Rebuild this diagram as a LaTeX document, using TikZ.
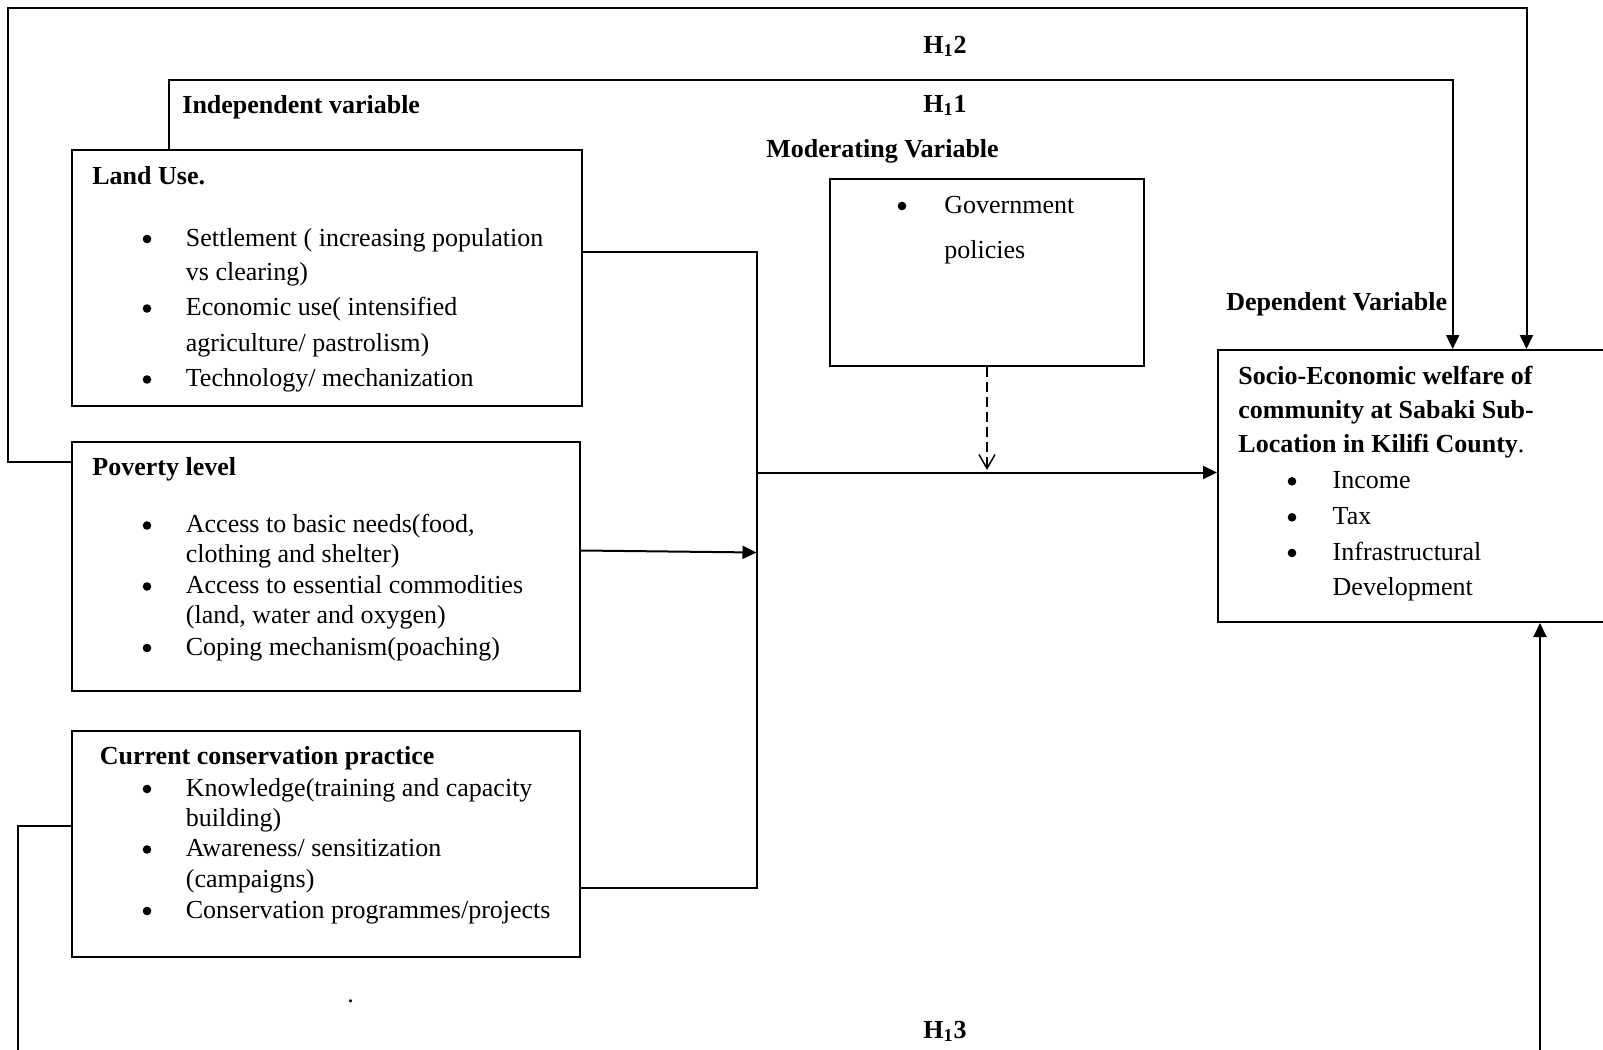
\documentclass[tikz,border=0pt]{standalone}
\usepackage{fontspec}
\setmainfont{Liberation Serif}
\usetikzlibrary{arrows.meta,fit}
\begin{document}
\begin{tikzpicture}[x=0.5pt,y=-0.5pt,
  box/.style={draw, line width=1pt, inner sep=0pt},
  ln/.style={line width=1pt},
  arr/.style={line width=1pt, -{Triangle[length=7pt,width=6.5pt]}},
  darr/.style={line width=0.75pt, dash pattern=on 5pt off 2.5pt, -{Straight Barb[length=7pt,width=8pt]}},
  tx/.style={anchor=base west, inner sep=0pt, font=\fontsize{13}{15}\selectfont},
  bx/.style={anchor=base west, inner sep=0pt, font=\fontsize{13}{15}\selectfont\bfseries},
  bul/.style={circle, fill, inner sep=0pt, minimum size=4.3pt, yshift=3.5pt}]
\useasboundingbox (0,0) rectangle (1603,1050);

% boxes
\node[box, fit={(71.6,150) (582,406)}] (land) {};
\node[box, fit={(71.6,442) (580,690.5)}] (pov) {};
\node[box, fit={(71.6,731) (580,957)}] (cons) {};
\node[box, fit={(830,179) (1144,365.5)}] (mod) {};
\node[box, fit={(1218,350) (1660,622)}] (dep) {};

% helper coordinates
\coordinate (h1a) at (169,80);
\coordinate (h1b) at (1452.7,80);
\coordinate (h2a) at (8.4,462);
\coordinate (h2b) at (1526.5,7.8);
\coordinate (h3a) at (17.5,826);
\coordinate (h3b) at (17.5,1080);
\coordinate (h3c) at (1540,1080);
\coordinate (cl) at (756.5,251.5);
\coordinate (cb) at (756.5,888);
\coordinate (cp) at (756.5,552.5);
\coordinate (cm) at (756.5,472.5);
\coordinate (dm) at (987,470);

% hypotheses connectors
\draw[arr] (land.north -| h1a) -- (h1a) -- (h1b) -- (dep.north -| h1b);
\draw[arr] (pov.west |- h2a) -- (h2a) |- (h2b) -- (dep.north -| h2b);
\draw[arr] (cons.west |- h3a) -- (h3a) -- (h3b) -- (h3c) -- (dep.south -| h3c);

% collector
\draw[ln] (land.east |- cl) -- (cl) -- (cb) -- (cons.east |- cb);
\draw[arr] (pov.east |- 0,550.5) -- (cp);
\draw[arr] (cm) -- (dep.west |- cm);
\draw[darr] (mod.south) -- (dm);

% labels
\node[bx] (lh2) at (923,53) {H\textsubscript{1}2};
\node[bx] (lh1) at (923,112) {H\textsubscript{1}1};
\node[bx] (lh3) at (923,1038) {H\textsubscript{1}3};
\node[bx] (liv) at (182,113) {Independent variable};
\node[bx] (lmv) at (766,157) {Moderating Variable};
\node[bx] (ldv) at (1226,310) {Dependent Variable};
\node[tx] (ldot) at (347,1002) {.};

% land use
\node[bx] (a0) at (92,184) {Land Use.};
\node[bul] (ab1) at (147,246) {};
\node[bul] (ab2) at (147,315.5) {};
\node[bul] (ab3) at (147,386.5) {};
\node[tx] (a1) at (185.5,246) {Settlement ( increasing population};
\node[tx] (a2) at (185.5,280.5) {vs clearing)};
\node[tx] (a3) at (185.5,315.5) {Economic use( intensified};
\node[tx] (a4) at (185.5,351) {agriculture/ pastrolism)};
\node[tx] (a5) at (185.5,386.5) {Technology/ mechanization};

% poverty
\node[bx] (p0) at (92,475) {Poverty level};
\node[bul] (pb1) at (147,532.5) {};
\node[bul] (pb2) at (147,593.5) {};
\node[bul] (pb3) at (147,655) {};
\node[tx] (p1) at (185.5,532.5) {Access to basic needs(food,};
\node[tx] (p2) at (185.5,562) {clothing and shelter)};
\node[tx] (p3) at (185.5,593.5) {Access to essential commodities};
\node[tx] (p4) at (185.5,623.5) {(land, water and oxygen)};
\node[tx] (p5) at (185.5,655) {Coping mechanism(poaching)};

% conservation
\node[bx] (c0) at (99.5,764) {Current conservation practice};
\node[bul] (cb1) at (147,796) {};
\node[bul] (cb2) at (147,856.5) {};
\node[bul] (cb3) at (147,918) {};
\node[tx] (c1) at (185.5,796) {Knowledge(training and capacity};
\node[tx] (c2) at (185.5,826) {building)};
\node[tx] (c3) at (185.5,856.5) {Awareness/ sensitization};
\node[tx] (c4) at (185.5,887) {(campaigns)};
\node[tx] (c5) at (185.5,918) {Conservation programmes/projects};

% moderating
\node[bul] (mb1) at (902,213) {};
\node[tx] (m1) at (944,213) {Government};
\node[tx] (m2) at (944,258) {policies};

% dependent
\node[bx] (d0) at (1238,384.3) {Socio-Economic welfare of};
\node[bx] (d1) at (1238,418.3) {community at Sabaki Sub-};
\node[tx] (d2) at (1238,452.3) {\textbf{Location in Kilifi County}.};
\node[bul] (db1) at (1292,488.3) {};
\node[bul] (db2) at (1292,524.3) {};
\node[bul] (db3) at (1292,560) {};
\node[tx] (d3) at (1332.3,488.3) {Income};
\node[tx] (d4) at (1332.3,524.3) {Tax};
\node[tx] (d5) at (1332.3,560) {Infrastructural};
\node[tx] (d6) at (1332.3,595) {Development};
\end{tikzpicture}
\end{document}
